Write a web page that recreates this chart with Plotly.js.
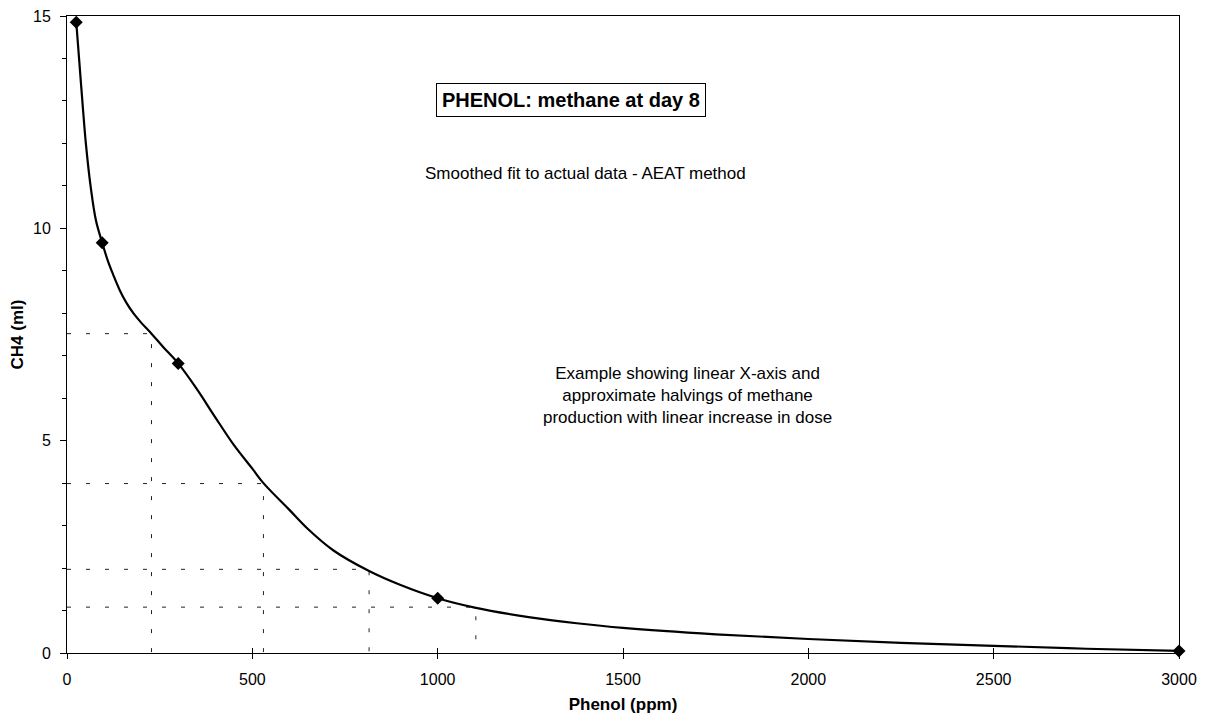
<!DOCTYPE html>
<html>
<head>
<meta charset="utf-8">
<script src="https://cdn.plot.ly/plotly-3.0.1.min.js"></script>
<style>html,body{margin:0;padding:0;background:#fff;}#chart{width:1207px;height:714px;}</style>
</head>
<body>
<div id="chart"></div>
<script>
// Measured data points (diamonds)
const phenolDose = [25, 95, 300, 1000, 3000];
const methaneCH4 = [14.85, 9.66, 6.82, 1.29, 0.05];

// Smoothed fit curve
const fitX = [25, 33, 42, 51, 64, 78, 95, 110, 125, 142, 160, 180, 200, 228, 260, 300, 350, 400, 450, 500, 530, 600, 650, 718, 815, 900, 1000, 1100, 1250, 1375, 1500, 1750, 2000, 2250, 2500, 2750, 3000];
const fitY = [14.85, 13.95, 12.93, 11.99, 10.97, 10.19, 9.66, 9.24, 8.90, 8.55, 8.25, 7.99, 7.78, 7.52, 7.20, 6.82, 6.22, 5.55, 4.90, 4.34, 4.00, 3.37, 2.92, 2.42, 1.93, 1.60, 1.29, 1.07, 0.84, 0.70, 0.59, 0.44, 0.33, 0.24, 0.17, 0.10, 0.05];

// Halving guide lines (dose, methane)
const halvingDose = [228, 530, 815, 1103];
const halvingCH4 = [7.52, 3.99, 1.97, 1.08];

const xTicks = [0, 500, 1000, 1500, 2000, 2500, 3000];
const yTicks = [0, 5, 10, 15];

const FONT = 'Liberation Sans, Arial, Helvetica, sans-serif';

const traces = [];
for (let i = 0; i < halvingDose.length; i++) {
  traces.push({
    x: [0, halvingDose[i], halvingDose[i]],
    y: [halvingCH4[i], halvingCH4[i], 0],
    mode: 'lines',
    line: {color: '#222', width: 1, dash: '4px,15px'},
    hoverinfo: 'skip', showlegend: false
  });
}
traces.push({
  x: fitX, y: fitY, mode: 'lines',
  line: {color: '#000', width: 2.2, shape: 'spline', smoothing: 1},
  hoverinfo: 'skip', showlegend: false, cliponaxis: false
});
traces.push({
  x: phenolDose, y: methaneCH4, mode: 'markers',
  marker: {symbol: 'diamond', size: 10, color: '#000'},
  showlegend: false, cliponaxis: false
});
// dummy trace for the inside-tick overlay axis
traces.push({
  x: phenolDose, y: methaneCH4, xaxis: 'x2', mode: 'markers',
  marker: {opacity: 0, size: 1}, hoverinfo: 'skip', showlegend: false
});

const layout = {
  width: 1207, height: 714,
  margin: {l: 67, r: 28, t: 16, b: 61},
  paper_bgcolor: '#fff', plot_bgcolor: '#fff',
  font: {family: FONT, color: '#000', size: 16},
  xaxis: {
    range: [0, 3000], tickvals: xTicks, ticktext: xTicks.map(String),
    showgrid: false, zeroline: false, showline: true, linecolor: '#000', linewidth: 1,
    mirror: true, ticks: 'outside', ticklen: 5, tickcolor: '#000', tickwidth: 1,
    ticklabelstandoff: 7, tickfont: {size: 16, family: FONT},
    title: {text: '<b>Phenol (ppm)</b>', font: {size: 17, family: FONT}, standoff: 10}
  },
  xaxis2: {
    range: [0, 3000], overlaying: 'x', side: 'bottom', tickvals: xTicks,
    showticklabels: false, showgrid: false, zeroline: false, showline: false,
    ticks: 'inside', ticklen: 5, tickcolor: '#000', tickwidth: 1
  },
  yaxis: {
    range: [0, 15], tickvals: yTicks, ticktext: yTicks.map(String),
    showgrid: false, zeroline: false, showline: true, linecolor: '#000', linewidth: 1,
    mirror: true, ticks: 'outside', ticklen: 6, tickcolor: '#000', tickwidth: 1,
    minor: {dtick: 1, ticks: 'outside', ticklen: 4, tickcolor: '#000', showgrid: false},
    ticklabelstandoff: 6, tickfont: {size: 16, family: FONT},
    title: {text: '<b>CH4 (ml)</b>', font: {size: 17, family: FONT}, standoff: 5}
  },
  annotations: [
    {xref: 'paper', yref: 'paper', x: 0.453, y: 0.868, xanchor: 'center', yanchor: 'middle', showarrow: false,
     text: '<b>PHENOL: methane at day 8</b>', font: {size: 20, family: FONT},
     bordercolor: '#000', borderwidth: 1, borderpad: 5, bgcolor: '#fff'},
    {xref: 'paper', yref: 'paper', x: 0.466, y: 0.752, xanchor: 'center', yanchor: 'middle', showarrow: false,
     text: 'Smoothed fit to actual data - AEAT method', font: {size: 17, family: FONT}},
    {xref: 'paper', yref: 'paper', x: 0.558, y: 0.405, xanchor: 'center', yanchor: 'middle', showarrow: false,
     text: 'Example showing linear X-axis and<br>approximate halvings of methane<br>production with linear increase in dose',
     font: {size: 17, family: FONT}}
  ]
};

Plotly.newPlot('chart', traces, layout, {displayModeBar: false, staticPlot: true});
</script>
</body>
</html>
